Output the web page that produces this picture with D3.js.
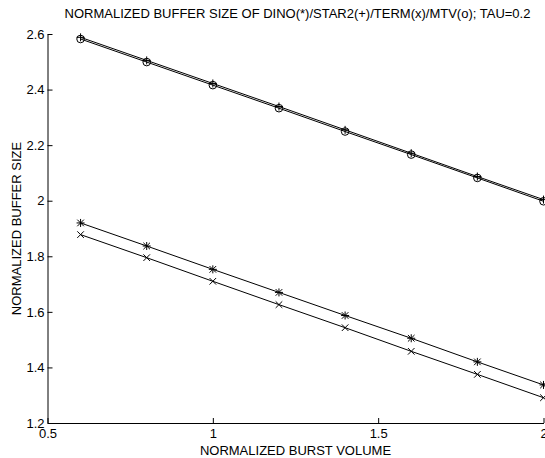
<!DOCTYPE html>
<html>
<head>
<meta charset="utf-8">
<script src="https://cdn.jsdelivr.net/npm/d3@7"></script>
<style>
  body { margin: 0; background: #fff; }
  text { font-family: "Liberation Sans", Arial, sans-serif; fill: #000; }
</style>
</head>
<body>
<div id="chart"></div>
<script>
// burst volume (x) and buffer size for each algorithm
var burstVolume = [0.6, 0.8, 1.0, 1.2, 1.4, 1.6, 1.8, 2.0];
var dino  = [1.920, 1.837, 1.753, 1.670, 1.587, 1.505, 1.420, 1.337];
var star2 = [2.588, 2.505, 2.422, 2.339, 2.255, 2.171, 2.087, 2.004];
var term  = [1.878, 1.795, 1.710, 1.626, 1.543, 1.458, 1.375, 1.291];
var mtv   = [2.582, 2.499, 2.416, 2.333, 2.249, 2.166, 2.082, 1.998];
var xTicks = [0.5, 1, 1.5, 2];
var yTicks = [1.2, 1.4, 1.6, 1.8, 2, 2.2, 2.4, 2.6];

var W = 545, H = 458;
var margin = {top: 34, right: 1.5, bottom: 35, left: 47.5};
var width = W - margin.left - margin.right;
var height = H - margin.top - margin.bottom;

var svg = d3.select("#chart").append("svg")
    .attr("width", W)
    .attr("height", H);

var g = svg.append("g")
    .attr("transform", "translate(" + margin.left + "," + margin.top + ")");

var x = d3.scaleLinear().domain([0.5, 2]).range([0, width]);
var y = d3.scaleLinear().domain([1.2, 2.6]).range([height, 0]);

// marker shapes, MATLAB style
function markerPath(type) {
  var p = d3.path();
  if (type == "o") {
    p.moveTo(3.8, 0);
    p.arc(0, 0, 3.8, 0, 2 * Math.PI);
  }
  if (type == "+" || type == "*") {
    p.moveTo(-4, 0); p.lineTo(4, 0);
    p.moveTo(0, -4); p.lineTo(0, 4);
  }
  if (type == "x" || type == "*") {
    p.moveTo(-3.3, -3.3); p.lineTo(3.3, 3.3);
    p.moveTo(-3.3, 3.3); p.lineTo(3.3, -3.3);
  }
  return p.toString();
}

var series = [
  {name: "DINO", marker: "*", values: dino},
  {name: "STAR2", marker: "+", values: star2},
  {name: "TERM", marker: "x", values: term},
  {name: "MTV", marker: "o", values: mtv}
];

var line = d3.line()
    .x(function(d) { return x(d[0]); })
    .y(function(d) { return y(d[1]); });

series.forEach(function(s) {
  var pts = burstVolume.map(function(v, i) { return [v, s.values[i]]; });
  g.append("path")
    .attr("d", line(pts))
    .style("fill", "none")
    .style("stroke", "#000")
    .style("stroke-width", "1px");
  g.selectAll(".m-" + s.name)
    .data(pts)
    .enter()
    .append("path")
    .attr("class", "m-" + s.name)
    .attr("transform", function(d) { return "translate(" + x(d[0]) + "," + y(d[1]) + ")"; })
    .attr("d", markerPath(s.marker))
    .style("fill", "none")
    .style("stroke", "#000")
    .style("stroke-width", "1px");
});

// axes with inward ticks
var xAxis = g.append("g")
  .attr("transform", "translate(0," + height + ")")
  .call(d3.axisBottom(x).tickValues(xTicks).tickSizeInner(-5).tickSizeOuter(0).tickPadding(6)
    .tickFormat(d3.format("")));
var yAxis = g.append("g")
  .call(d3.axisLeft(y).tickValues(yTicks).tickSizeInner(-5).tickSizeOuter(0).tickPadding(3)
    .tickFormat(d3.format("")));

[xAxis, yAxis].forEach(function(a) {
  a.select(".domain").attr("stroke", "#000");
  a.selectAll("line").attr("stroke", "#000");
  a.selectAll("text")
    .style("font-family", "'Liberation Sans', Arial, sans-serif")
    .style("font-size", "13px")
    .attr("fill", "#000");
});

// title and axis labels
svg.append("text")
  .attr("x", margin.left + width / 2 + 2)
  .attr("y", 18)
  .attr("text-anchor", "middle")
  .style("font-size", "13px")
  .text("NORMALIZED BUFFER SIZE OF DINO(*)/STAR2(+)/TERM(x)/MTV(o); TAU=0.2");

svg.append("text")
  .attr("x", margin.left + width / 2)
  .attr("y", 455)
  .attr("text-anchor", "middle")
  .style("font-size", "13px")
  .text("NORMALIZED BURST VOLUME");

svg.append("text")
  .attr("transform", "translate(21," + (margin.top + height / 2) + ") rotate(-90)")
  .attr("text-anchor", "middle")
  .style("font-size", "13px")
  .text("NORMALIZED BUFFER SIZE");
</script>
</body>
</html>
